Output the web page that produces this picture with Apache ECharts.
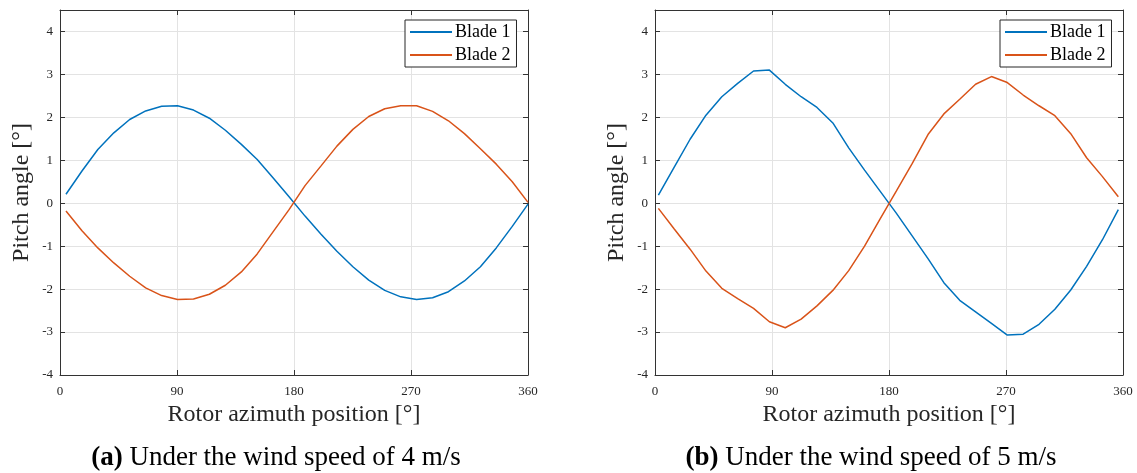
<!DOCTYPE html>
<html>
<head>
<meta charset="utf-8">
<script src="https://cdn.jsdelivr.net/npm/echarts@6/dist/echarts.min.js"></script>
<style>
html,body{margin:0;padding:0;background:#fff;}
#chart{width:1137px;height:473px;}
</style>
</head>
<body>
<div id="chart"></div>
<script>
// Rotor azimuth positions (degrees)
const azimuthA = [4.6, 16.9, 29.1, 41.4, 53.6, 65.9, 78.2, 90.4, 102.7, 114.9, 127.2, 139.5, 151.7, 164.0, 176.2, 188.5, 200.8, 213.0, 225.3, 237.5, 249.8, 262.1, 274.3, 286.6, 298.8, 311.1, 323.4, 335.6, 347.9, 360.0];
const azimuthB = [2.6, 14.8, 27.0, 39.2, 51.4, 63.6, 75.8, 88.0, 100.2, 112.4, 124.6, 136.8, 149.0, 161.2, 173.4, 185.6, 197.8, 210.0, 222.2, 234.4, 246.6, 258.8, 271.0, 283.2, 295.4, 307.6, 319.8, 332.0, 344.2, 356.4];

// (a) wind speed 4 m/s
const blade1A = [0.21, 0.75, 1.25, 1.64, 1.95, 2.15, 2.26, 2.27, 2.17, 1.98, 1.70, 1.37, 1.02, 0.59, 0.15, -0.30, -0.72, -1.12, -1.48, -1.79, -2.03, -2.18, -2.24, -2.20, -2.06, -1.81, -1.48, -1.04, -0.54, -0.02];
const blade2A = [-0.18, -0.64, -1.04, -1.39, -1.70, -1.97, -2.15, -2.24, -2.23, -2.12, -1.91, -1.60, -1.18, -0.66, -0.15, 0.41, 0.87, 1.33, 1.72, 2.02, 2.20, 2.27, 2.27, 2.14, 1.92, 1.62, 1.27, 0.91, 0.50, 0.02];

// (b) wind speed 5 m/s
const blade1B = [0.19, 0.84, 1.49, 2.05, 2.48, 2.79, 3.08, 3.10, 2.77, 2.48, 2.23, 1.87, 1.29, 0.77, 0.27, -0.23, -0.76, -1.29, -1.85, -2.26, -2.53, -2.80, -3.07, -3.05, -2.82, -2.47, -2.02, -1.47, -0.85, -0.15];
const blade2B = [-0.12, -0.60, -1.07, -1.58, -1.98, -2.22, -2.45, -2.76, -2.90, -2.70, -2.39, -2.03, -1.57, -1.00, -0.35, 0.28, 0.92, 1.60, 2.08, 2.42, 2.77, 2.95, 2.81, 2.52, 2.27, 2.04, 1.62, 1.06, 0.62, 0.15];

const xTicks = [0, 90, 180, 270, 360];
const yTicks = [-4, -3, -2, -1, 0, 1, 2, 3, 4];
const seriesNames = ['Blade 1', 'Blade 2'];
const xLabel = 'Rotor azimuth position [°]';
const yLabel = 'Pitch angle [°]';
const captions = [['(a)', 'Under the wind speed of 4 m/s'], ['(b)', 'Under the wind speed of 5 m/s']];

const FONT = 'Liberation Serif';
const TXT = '#262626';
const colors = ['#0072BD', '#D95319'];

function zip(xs, ys) { return xs.map((x, i) => [x, ys[i]]); }

const grids = [
  { left: 60, top: 10, width: 468, height: 365 },
  { left: 655, top: 10, width: 468, height: 365 }
];

const xAxes = [], yAxes = [];
grids.forEach((g, gi) => {
  const base = {
    type: 'value', gridIndex: gi, min: 0, max: 360, interval: 90,
    axisLine: { show: true, onZero: false, lineStyle: { color: '#333333', width: 1 } },
    axisTick: { show: true, inside: true, length: 5, lineStyle: { color: '#333333' } }
  };
  xAxes.push(Object.assign({}, base, {
    position: 'bottom',
    name: xLabel, nameLocation: 'middle', nameGap: 26,
    nameTextStyle: { fontFamily: FONT, fontSize: 24, color: TXT },
    axisLabel: { fontFamily: FONT, fontSize: 13, color: TXT, margin: 10,
      formatter: v => xTicks.indexOf(v) >= 0 ? String(v) : '' },
    splitLine: { show: true, lineStyle: { color: '#e3e3e3', width: 1 } }
  }));
  xAxes.push(Object.assign({}, base, {
    position: 'top', axisLabel: { show: false }, splitLine: { show: false }
  }));
  const ybase = {
    type: 'value', gridIndex: gi, min: -4, max: 4.5, interval: 1,
    axisLine: { show: true, onZero: false, lineStyle: { color: '#333333', width: 1 } },
    axisTick: { show: true, inside: true, length: 5, lineStyle: { color: '#333333' } }
  };
  yAxes.push(Object.assign({}, ybase, {
    position: 'left',
    name: yLabel, nameLocation: 'middle', nameGap: 26, nameRotate: 90,
    nameTextStyle: { fontFamily: FONT, fontSize: 24, color: TXT },
    axisLabel: { fontFamily: FONT, fontSize: 13, color: TXT, margin: 7,
      formatter: v => yTicks.indexOf(v) >= 0 ? String(v) : '' },
    splitLine: { show: true, lineStyle: { color: '#e3e3e3', width: 1 } }
  }));
  yAxes.push(Object.assign({}, ybase, {
    position: 'right', axisLabel: { show: false }, splitLine: { show: false }
  }));
});

const data = [[blade1A, blade2A], [blade1B, blade2B]];
const xs = [azimuthA, azimuthB];
const series = [];
data.forEach((pair, gi) => {
  pair.forEach((vals, si) => {
    series.push({
      type: 'line', name: seriesNames[si],
      xAxisIndex: gi * 2, yAxisIndex: gi * 2,
      data: zip(xs[gi], vals),
      showSymbol: false, symbol: 'none',
      lineStyle: { color: colors[si], width: 1.5 },
      itemStyle: { color: colors[si] },
      animation: false
    });
  });
});

const legends = grids.map(g => ({
  data: seriesNames,
  orient: 'vertical',
  left: g.left + 345, top: 20,
  itemWidth: 42, itemHeight: 2, itemGap: 5,
  icon: 'rect',
  backgroundColor: '#fff',
  borderColor: '#262626', borderWidth: 1, borderRadius: 0,
  padding: [3, 6, 3, 5],
  textStyle: { fontFamily: FONT, fontSize: 18, color: '#000', padding: [0, 0, 0, -2] }
}));

const graphics = grids.map((g, gi) => ({
  type: 'text',
  style: {
    text: '{b|' + captions[gi][0] + '} ' + captions[gi][1],
    x: g.left + g.width / 2 - 18, y: 458,
    align: 'center', verticalAlign: 'middle',
    fontFamily: FONT, fontSize: 27, fill: '#000',
    rich: { b: { fontFamily: FONT, fontSize: 27, fontWeight: 'bold', fill: '#000' } }
  }
}));

const chart = echarts.init(document.getElementById('chart'), null, { renderer: 'canvas' });
chart.setOption({
  animation: false,
  backgroundColor: '#fff',
  color: colors,
  grid: grids,
  xAxis: xAxes,
  yAxis: yAxes,
  legend: legends,
  series: series,
  graphic: graphics
});
</script>
</body>
</html>
